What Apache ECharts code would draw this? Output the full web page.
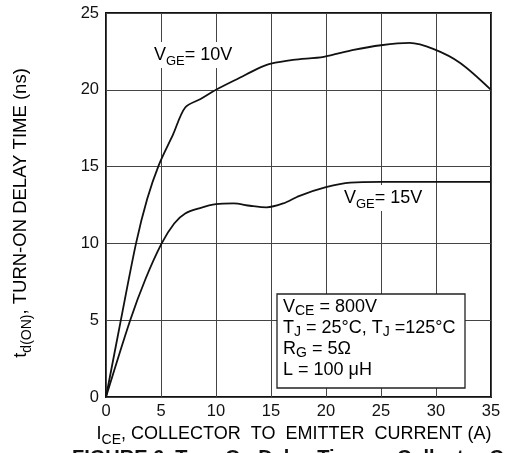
<!DOCTYPE html>
<html>
<head>
<meta charset="utf-8">
<script src="https://cdn.jsdelivr.net/npm/echarts@6/dist/echarts.min.js"></script>
<style>
  html, body { margin: 0; padding: 0; background: #fff; }
  #chart { width: 505px; height: 453px; }
</style>
</head>
<body>
<div id="chart"></div>
<script>
// Turn-on delay time vs collector current, two gate drive voltages
const xTicks = [0, 5, 10, 15, 20, 25, 30, 35];
const yTicks = [0, 5, 10, 15, 20, 25];

// V_GE = 10 V
const current10 = [0, 1.35, 2.73, 3.75, 4.8, 6.1, 7.2, 8.6, 10.0, 12.2, 13.7, 15.0, 17.0, 19.8, 22.5, 25.0, 27.6, 29.8, 32.2, 35.0];
const delay10   = [0, 5.0, 10.0, 12.9, 15.1, 17.1, 18.85, 19.4, 20.0, 20.8, 21.35, 21.7, 21.95, 22.15, 22.6, 22.9, 23.05, 22.65, 21.75, 20.0];

// V_GE = 15 V
const current15 = [0, 2.2, 3.6, 5.06, 6.2, 7.2, 8.55, 10.0, 11.6, 13.1, 14.6, 16.1, 17.6, 20.0, 22.2, 25.0, 30.0, 35.0];
const delay15   = [0, 5.0, 7.7, 10.0, 11.3, 11.95, 12.3, 12.55, 12.6, 12.45, 12.35, 12.6, 13.1, 13.66, 13.96, 14.0, 14.0, 14.0];

const FONT = "'Liberation Sans', Arial, Helvetica, sans-serif";
const INK = '#111';

function pairs(xs, ys) { return xs.map((x, i) => [x, ys[i]]); }

const subRich = (size, lh, subSize, subLh) => ({
  n: { fontSize: size, lineHeight: lh, fontFamily: FONT, color: INK },
  s: { fontSize: subSize, lineHeight: subLh, verticalAlign: 'bottom', fontFamily: FONT, color: INK }
});

const chart = echarts.init(document.getElementById('chart'), null, { renderer: 'canvas' });

chart.setOption({
  backgroundColor: '#fff',
  animation: false,
  grid: {
    left: 106, right: 14, top: 13, bottom: 56,
    show: true, borderColor: '#111', borderWidth: 2, backgroundColor: 'transparent'
  },
  xAxis: {
    type: 'value', min: xTicks[0], max: xTicks[xTicks.length - 1], interval: 5,
    axisLine: { show: false }, axisTick: { show: false },
    splitLine: { show: true, lineStyle: { color: '#444', width: 1 } },
    axisLabel: { color: INK, fontSize: 16.5, fontFamily: FONT, margin: 6 }
  },
  yAxis: {
    type: 'value', min: yTicks[0], max: yTicks[yTicks.length - 1], interval: 5,
    axisLine: { show: false }, axisTick: { show: false },
    splitLine: { show: true, lineStyle: { color: '#444', width: 1 } },
    axisLabel: { color: INK, fontSize: 16.5, fontFamily: FONT, margin: 7 }
  },
  series: [
    {
      name: 'VGE 10V', type: 'line', data: pairs(current10, delay10),
      smooth: 0.3, showSymbol: false, lineStyle: { color: INK, width: 1.8 }
    },
    {
      name: 'VGE 15V', type: 'line', data: pairs(current15, delay15),
      smooth: 0.3, showSymbol: false, lineStyle: { color: INK, width: 1.8 }
    }
  ],
  graphic: [
    // curve labels
    {
      type: 'text', x: 152, y: 55, z: 10,
      style: {
        text: '{n|V}{s|GE}{n|= 10V}', rich: subRich(18, 26, 13, 14),
        verticalAlign: 'middle', backgroundColor: '#fff', padding: [0, 2]
      }
    },
    {
      type: 'text', x: 342, y: 198, z: 10,
      style: {
        text: '{n|V}{s|GE}{n|= 15V}', rich: subRich(18, 26, 13, 14),
        verticalAlign: 'middle', backgroundColor: '#fff', padding: [0, 2]
      }
    },
    // test-condition box
    {
      type: 'rect', z: 10,
      shape: { x: 277, y: 294, width: 188, height: 94 },
      style: { fill: '#fff', stroke: '#222', lineWidth: 1.3 }
    },
    {
      type: 'text', x: 283, y: 297, z: 11,
      style: {
        text: '{n|V}{s|CE}{n| = 800V}\n{n|T}{s|J}{n| = 25°C, T}{s|J}{n| =125°C}\n{n|R}{s|G}{n| = 5Ω}\n{n|L = 100 μH}',
        rich: subRich(18, 21, 14, 14)
      }
    },
    // axis titles
    {
      type: 'text', x: 294, y: 434, z: 10,
      style: {
        text: '{n|I}{s|CE}{n|, COLLECTOR  TO  EMITTER  CURRENT (A)}',
        rich: subRich(18, 26, 14, 14), align: 'center', verticalAlign: 'middle'
      }
    },
    {
      type: 'text', x: 21, y: 213, rotation: Math.PI / 2, z: 10,
      style: {
        text: '{n|t}{s|d(ON)}{n|, TURN-ON DELAY TIME (ns)}',
        rich: subRich(18.5, 26, 14, 14), align: 'center', verticalAlign: 'middle'
      }
    },
    // figure caption (runs off the bottom edge)
    {
      type: 'text', x: 72, y: 448, z: 10,
      style: {
        text: 'FIGURE 6. Turn-On Delay Time vs Collector Current',
        font: 'bold 20px ' + FONT, fill: INK, verticalAlign: 'top'
      }
    }
  ]
});
</script>
</body>
</html>
